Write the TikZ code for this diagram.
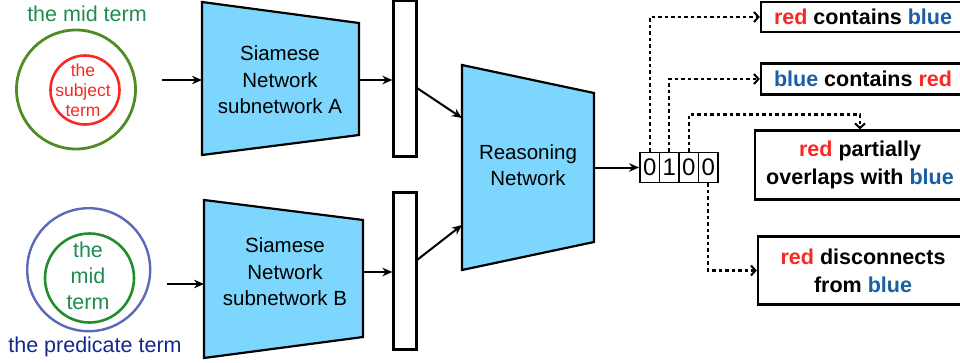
\documentclass[tikz,border=0pt]{standalone}
\usepackage{fontspec}
\setmainfont{Liberation Sans}
\usetikzlibrary{arrows.meta}
\definecolor{skyfill}{RGB}{124,214,253}
\definecolor{midgreen}{RGB}{30,140,80}
\definecolor{olivegreen}{RGB}{80,140,35}
\definecolor{termred}{RGB}{250,40,35}
\definecolor{circblue}{RGB}{90,105,185}
\definecolor{preddblue}{RGB}{20,40,140}
\definecolor{relblue}{RGB}{25,95,165}
\definecolor{innergreen}{RGB}{35,140,45}
\begin{document}
\begin{tikzpicture}[x=1pt,y=-1pt,
  netshape/.style={draw=black,fill=skyfill,line width=2.2pt,line join=miter},
  nettext/.style={font=\fontsize{20.5}{26.5}\selectfont,align=center,inner sep=0},
  arr/.style={line width=2pt,-{Stealth[length=10pt,width=8.5pt]}},
  dotarr/.style={line width=2.2pt,dash pattern=on 3.5pt off 3pt,-{Straight Barb[length=4.5pt,width=10pt,line width=2pt]}},
  barbox/.style={draw=black,line width=2.2pt,inner sep=0,minimum width=23pt},
  cell/.style={draw=black,line width=1.9pt,inner sep=0,minimum width=19.5pt,minimum height=30pt,font=\fontsize{24}{24}\selectfont},
  relbox/.style={draw=black,line width=2.4pt,inner sep=0,align=center,font=\bfseries\fontsize{21.5}{28}\selectfont},
  ring/.style={circle,inner sep=0},
  lbl/.style={inner sep=0,align=center,font=\fontsize{21.5}{26}\selectfont}
]
\useasboundingbox (0,0) rectangle (960,362);

% left circles (top)
\node[lbl,text=midgreen] (midlabel) at (87,14) {the mid term};
\node[ring,draw=olivegreen,line width=2.8pt,minimum size=119pt] (outerA) at (76,89.5) {};
\node[ring,draw=termred,line width=2.6pt,minimum size=69pt] (innerA) at (85,90) {};
\node[lbl,text=termred,font=\fontsize{17.5}{20}\selectfont] (subjtext) at (83,90) {the\\subject\\term};

% left circles (bottom)
\node[ring,draw=circblue,line width=2.4pt,minimum size=123pt] (outerB) at (88.7,269.7) {};
\node[ring,draw=innergreen,line width=2.6pt,minimum size=89pt] (innerB) at (89.5,278) {};
\node[lbl,text=midgreen] (midtext) at (88,276) {the\\mid\\term};
\node[lbl,text=preddblue] (predlabel) at (95,347) {the predicate term};

% siamese A
\draw[netshape] (202,2) -- (359,23) -- (359,135) -- (202,155) -- cycle;
\node[nettext] (sA) at (280,80) {Siamese\\Network\\subnetwork A};
\coordinate (tAw) at (202,80);
\coordinate (tAe) at (359,80);
\coordinate (inA) at (162,80);

% siamese B
\draw[netshape] (204,200) -- (363,220) -- (363,337) -- (204,358) -- cycle;
\node[nettext] (sB) at (285,272) {Siamese\\Network\\subnetwork B};
\coordinate (tBw) at (204,284);
\coordinate (tBe) at (363,272);
\coordinate (inB) at (167,284);

% bars
\node[barbox,minimum height=156pt] (barA) at (405,78.5) {};
\node[barbox,minimum height=157pt] (barB) at (405,271) {};
\coordinate (aOut) at (417,88);
\coordinate (bOut) at (417,260);

% reasoning network
\draw[netshape] (462,65) -- (594,93) -- (594,242) -- (462,270) -- cycle;
\node[nettext] (rn) at (528,165) {Reasoning\\Network};
\coordinate (rIn1) at (462,118);
\coordinate (rIn2) at (462,225);
\coordinate (rOut) at (594,167.5);

% output vector
\node[cell] (c1) at (649.75,167.5) {0};
\node[cell] (c2) at (669.25,167.5) {1};
\node[cell] (c3) at (688.75,167.5) {0};
\node[cell] (c4) at (708.25,167.5) {0};

% relation boxes
\node[relbox,minimum width=204pt,minimum height=30pt] (b1) at (863,17) {\textcolor{termred}{red} contains \textcolor{relblue}{blue}};
\node[relbox,minimum width=204pt,minimum height=31pt] (b2) at (863,79) {\textcolor{relblue}{blue} contains \textcolor{termred}{red}};
\node[relbox,minimum width=210pt,minimum height=69pt] (b3) at (860,165) {\textcolor{termred}{red} partially\\overlaps with \textcolor{relblue}{blue}};
\node[relbox,minimum width=210pt,minimum height=68pt] (b4) at (863,270.5) {\textcolor{termred}{red} disconnects\\from \textcolor{relblue}{blue}};

% solid connectors
\draw[arr] (inA) -- (tAw);
\draw[arr] (inB) -- (tBw);
\draw[arr] (tAe) -- (tAe -| barA.west);
\draw[arr] (tBe) -- (tBe -| barB.west);
\draw[arr] (aOut) -- (rIn1);
\draw[arr] (bOut) -- (rIn2);
\draw[arr] (rOut) -- (c1.west);

% dotted connectors
\draw[dotarr] (c1.north) |- (b1.west);
\draw[dotarr] (c2.north) |- (b2.west);
\draw[dotarr] (c3.north) -- ++(0,-37) -| (b3.north);
\draw[dotarr] (c4.south) |- (b4.west);
\end{tikzpicture}
\end{document}
